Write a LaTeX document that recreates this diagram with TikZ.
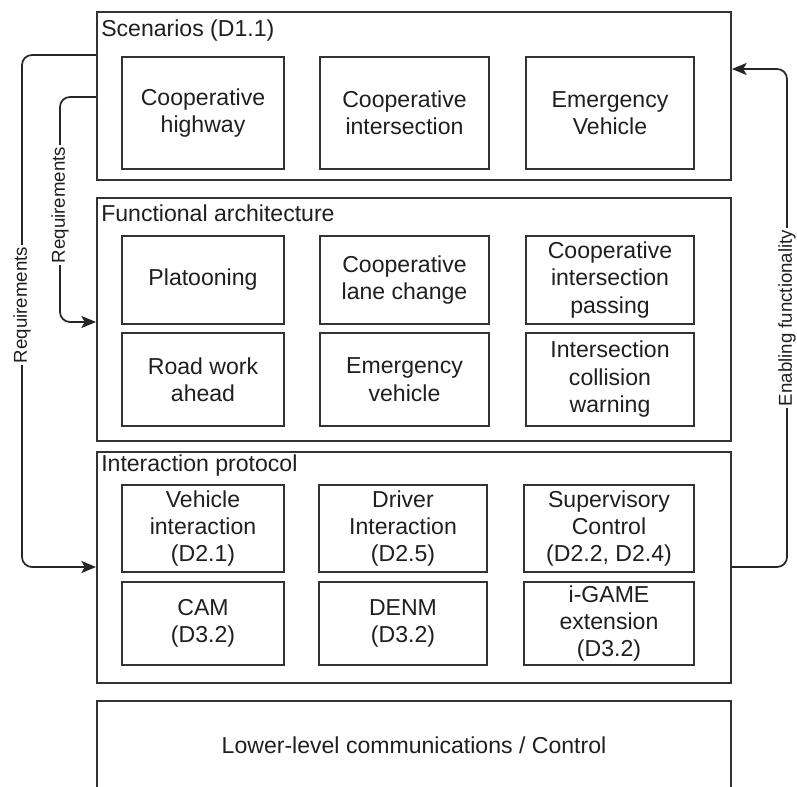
\documentclass[tikz,border=0pt]{standalone}
\usepackage{fontspec}
\setmainfont{Liberation Sans}
\usetikzlibrary{arrows.meta}
\begin{document}
\begin{tikzpicture}[x=0.75pt,y=-0.75pt,
  every node/.style={text=black!88},
  frame/.style={draw=black!80,line width=1.4pt},
  boxstyle/.style 2 args={draw=black!80,line width=1.4pt,inner sep=0pt,
     minimum width=#1*0.75pt,minimum height=#2*0.75pt,align=center,
     font=\fontsize{17.3}{20.6}\selectfont},
  title/.style={anchor=base west,inner sep=0pt,font=\fontsize{17.3}{20.6}\selectfont},
  conn/.style={draw=black!85,line width=1.3pt,rounded corners=7.5pt},
  tip/.style={-{Stealth[length=11pt,width=9pt,inset=2.5pt]}},
  lab/.style={fill=white,rotate=90,inner sep=1.5pt,font=\fontsize{14}{16}\selectfont}]
\useasboundingbox (0,0) rectangle (797,787);
\fill[white] (0,0) rectangle (797,787);

% outer frames
\node[boxstyle={634}{168}] (S) at (414,96) {};
\node[boxstyle={634}{243}] (F) at (414,319.5) {};
\node[boxstyle={634}{231}] (I) at (414,567.5) {};
\draw[frame] (97,800) -- (97,701) -- (731,701) -- (731,800);
\node[font=\fontsize{17.3}{20.6}\selectfont] (L) at (414,745) {Lower-level communications / Control};

% titles
\node[title] (St) at (101,37) {Scenarios (D1.1)};
\node[title] (Ft) at (101,222) {Functional architecture};
\node[title] (It) at (101,472) {Interaction protocol};

% scenarios
\node[boxstyle={162}{112}] (s1) at (203,113) {Cooperative\\highway};
\node[boxstyle={169}{112}] (s2) at (404.5,113) {Cooperative\\intersection};
\node[boxstyle={168}{112}] (s3) at (610,113) {Emergency\\Vehicle};

% functional architecture
\node[boxstyle={162}{88}] (f1) at (203,280) {Platooning};
\node[boxstyle={169}{88}] (f2) at (404.5,280) {Cooperative\\lane change};
\node[boxstyle={168}{88}] (f3) at (610,280) {Cooperative\\intersection\\passing};
\node[boxstyle={162}{93}] (f4) at (203,379.5) {Road work\\ahead};
\node[boxstyle={169}{93}] (f5) at (404.5,379.5) {Emergency\\vehicle};
\node[boxstyle={168}{93}] (f6) at (610,379.5) {Intersection\\collision\\warning};

% interaction protocol
\node[boxstyle={162}{87}] (i1) at (203,528.5) {Vehicle\\interaction\\(D2.1)};
\node[boxstyle={168}{87}] (i2) at (403,528.5) {Driver\\Interaction\\(D2.5)};
\node[boxstyle={170}{87}] (i3) at (609,528.5) {Supervisory\\Control\\(D2.2, D2.4)};
\node[boxstyle={162}{83}] (i4) at (203,623.5) {CAM\\(D3.2)};
\node[boxstyle={168}{83}] (i5) at (403,623.5) {DENM\\(D3.2)};
\node[boxstyle={170}{83}] (i6) at (609,623.5) {i-GAME\\extension\\(D3.2)};

% connectors
\coordinate (oa) at (22,55);
\coordinate (ob) at (22,567);
\coordinate (ia) at (60,97);
\coordinate (ib) at (60,322);
\coordinate (ra) at (787,567);
\coordinate (rb) at (787,69);
\draw[conn,tip] (S.west |- oa) -- (oa) -- (ob) -- (I.west |- ob);
\draw[conn,tip] (S.west |- ia) -- (ia) -- (ib) -- (F.west |- ib);
\draw[conn,tip] (I.east |- ra) -- (ra) -- (rb) -- (S.east |- rb);
\node[lab] (l1) at (22,305) {Requirements};
\node[lab] (l2) at (60,205) {Requirements};
\node[lab] (l3) at (787,318) {Enabling functionality};
\end{tikzpicture}
\end{document}
